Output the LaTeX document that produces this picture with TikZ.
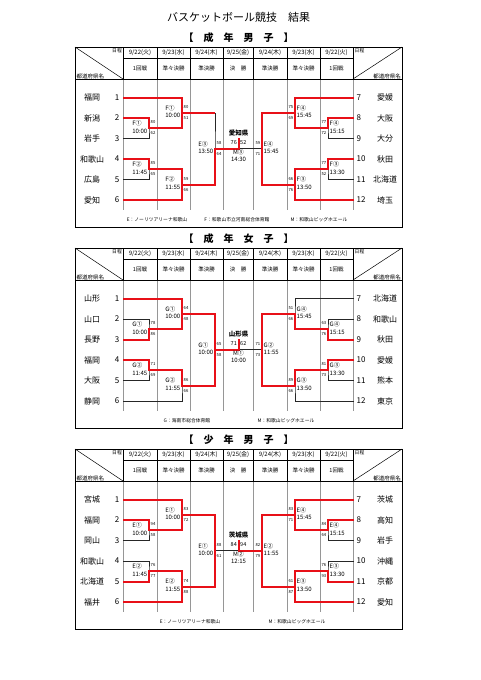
\documentclass[tikz,border=0pt]{standalone}
\usepackage{fontspec}
\setmainfont{Noto Sans CJK JP}
\usetikzlibrary{calc}

\definecolor{winred}{RGB}{232,16,24}
\definecolor{colgray}{RGB}{150,150,150}

\tikzset{
  grid line/.style={draw=colgray, line width=0.4pt},
  hdr line/.style={draw=black, line width=0.5pt},
  lose/.style={draw=black!85, line width=0.6pt},
  win/.style={draw=winred, line width=2pt, line join=miter},
  head/.style={font=\bfseries\fontsize{10}{10}\selectfont, inner sep=0pt},
  team/.style={font=\fontsize{8}{8}\selectfont, inner sep=0pt},
  hdr/.style={font=\fontsize{5.5}{5.5}\selectfont, inner sep=0pt},
  date/.style={font=\fontsize{6}{6}\selectfont, inner sep=0pt},
  tiny/.style={font=\fontsize{4.8}{4.8}\selectfont, inner sep=0pt},
  venue/.style={font=\fontsize{6}{7.5}\selectfont, inner sep=0pt, align=left},
  score/.style={font=\fontsize{4.2}{4.2}\selectfont, inner sep=0pt},
  fscore/.style={font=\fontsize{5.5}{5.5}\selectfont, inner sep=0pt},
  champ/.style={font=\bfseries\fontsize{6.5}{6.5}\selectfont, inner sep=0pt},
}

% frame, heading and header rows of one table
\newcommand{\tableframe}[1]{%
  \node[head] at (238.5,37.5) {#1};
  \foreach \x in {123,157,190,223,253,287,320,353} {
    \draw[grid line] (\x,79) -- (\x,210);
    \draw[hdr line] (\x,47) -- (\x,79);
  }
  \draw[hdr line] (123,58) -- (353,58);
  \draw[hdr line] (75,79) -- (402,79);
  \draw[hdr line] (75,47) -- (123,79);
  \draw[hdr line] (353,79) -- (402,47);
  \foreach \x/\dd/\w in {140/22/火, 173.5/23/水, 206.5/24/木, 238/25/金,
                         270/24/木, 303.5/23/水, 336.5/22/火}
    \node[date] at (\x,52.5) {9/\dd(\w)};
  \foreach \x/\r in {140/1回戦, 173.5/準々決勝, 206.5/準決勝, 238/決　勝,
                     270/準決勝, 303.5/準々決勝, 336.5/1回戦}
    \node[hdr] at (\x,68.5) {\r};
  \node[tiny, anchor=east] at (122,50.5) {日程};
  \node[tiny, anchor=west] at (354.5,50.5) {日程};
  \node[hdr, anchor=west] at (76.5,76) {都道府県名};
  \node[hdr, anchor=east] at (401,76) {都道府県名};
  \draw[line width=0.6pt] (75,47) rectangle (402,227);
  \draw[line width=1.5pt] (75.5,227.4) -- (402.4,227.4) -- (402.4,47.5);
}

% team names and numbers
\newcommand{\teams}[2]{%
  \foreach \nm [count=\i] in {#1} {
    \node[team] at (92,77+20.5*\i) {\nm};
    \node[team] at (117,77+20.5*\i) {\i};
  }
  \foreach \nm [count=\i] in {#2} {
    \node[team] at (385,77+20.5*\i) {\nm};
    \pgfmathtruncatemacro{\k}{\i+6}
    \node[team, anchor=west] at (356.5,77+20.5*\i) {\k};
  }
}

% black lines of one half
\newcommand{\halfbracket}[1]{%
  \foreach \i in {1,...,6}
    \coordinate (#1t\i) at (123,77+20.5*\i);
  \coordinate (#1a) at (149,128.25);
  \coordinate (#1b) at (149,169.25);
  \coordinate (#1c) at (182,112.9);
  \coordinate (#1d) at (182,184.6);
  \coordinate (#1e) at (215,148.75);
  \coordinate (#1g) at (215,112.9);
  \coordinate (#1f) at (238.5,148.75);
  \coordinate (#1k) at (238.5,138);
  \draw[lose] (#1t2) -| (#1a) |- (#1t3);
  \draw[lose] (#1t4) -| (#1b) |- (#1t5);
  \draw[lose] (#1t1) -| (#1c) |- (#1a);
  \draw[lose] (#1t6) -| (#1d) |- (#1b);
  \draw[lose] (#1c) -| (#1e) |- (#1d);
  \draw[lose] (#1e) -- (#1f);
}

\newcommand{\lgame}[5]{%
  \node[venue, anchor=east, xshift=-1.5pt, yshift=1.5pt] at (#1) {#2\\#3};
  \node[score, anchor=west, xshift=1.5pt, yshift=6pt] at (#1) {#4};
  \node[score, anchor=west, xshift=1.5pt, yshift=-5pt] at (#1) {#5};
}
\newcommand{\rgame}[5]{%
  \node[venue, anchor=west, xshift=1.5pt, yshift=1.5pt] at (#1) {#2\\#3};
  \node[score, anchor=east, xshift=-1.5pt, yshift=6pt] at (#1) {#4};
  \node[score, anchor=east, xshift=-1.5pt, yshift=-5pt] at (#1) {#5};
}
\newcommand{\finalgame}[5]{%
  \node[champ] at (238.5,133) {#1};
  \node[fscore, anchor=east] at (237,142.5) {#2};
  \node[fscore, anchor=west] at (240,142.5) {#3};
  \node[venue, align=center] at (238.5,155.5) {#4\\#5};
}

\begin{document}
\begin{tikzpicture}[x=1pt, y=-1pt]
  \useasboundingbox (0,0) rectangle (481,680);
  \node[font=\fontsize{11}{11}\selectfont] at (238.5,17.5) {バスケットボール競技　結果};

  % ---- seinen danshi
  \begin{scope}
    \tableframe{【　成　年　男　子　】}
    \teams{福岡,新潟,岩手,和歌山,広島,愛知}{愛媛,大阪,大分,秋田,北海道,埼玉}
    \halfbracket{L}
    \begin{scope}[shift={(477,0)}, xscale=-1]
      \halfbracket{R}
    \end{scope}
    \draw[win] (Lt2) -| (La) -| (Lc);
    \draw[win] (Lt1) -| (Lc) -- (Lg);
    \draw[win] (Lt4) -| (Lb) -| (Ld);
    \draw[win] (Lt6) -| (Ld) -| (Le) -- (Lf) -- (Lk);
    \draw[win] (Rt2) -| (Ra) -| (Rc);
    \draw[win] (Rt1) -| (Rc) -| (Re);
    \draw[win] (Rt4) -| (Rb) -| (Rd);
    \draw[win] (Rt6) -| (Rd) -| (Re);
    \lgame{La}{F①}{10:00}{80}{62}
    \lgame{Lc}{F①}{10:00}{80}{51}
    \lgame{Lb}{F②}{11:45}{85}{65}
    \lgame{Ld}{F②}{11:55}{59}{66}
    \lgame{Le}{E③}{13:50}{58}{64}
    \rgame{Ra}{F④}{15:15}{77}{72}
    \rgame{Rc}{F④}{15:45}{75}{69}
    \rgame{Rb}{F③}{13:30}{77}{52}
    \rgame{Rd}{F③}{13:50}{66}{76}
    \rgame{Re}{E④}{15:45}{59}{71}
    \finalgame{愛知県}{76}{52}{M③}{14:30}
    \node[tiny] at (157,220) {E：ノーリツアリーナ和歌山};
    \node[tiny] at (237,220) {F：和歌山市立河南総合体育館};
    \node[tiny] at (319,220) {M：和歌山ビッグホエール};
  \end{scope}

  % ---- seinen joshi
  \begin{scope}[yshift=-201pt]
    \tableframe{【　成　年　女　子　】}
    \teams{山形,山口,長野,福岡,大阪,静岡}{北海道,和歌山,秋田,愛媛,熊本,東京}
    \halfbracket{L}
    \begin{scope}[shift={(477,0)}, xscale=-1]
      \halfbracket{R}
    \end{scope}
    \draw[win] (Lt3) -| (La) -| (Lc);
    \draw[win] (Lt1) -| (Lc) -| (Le) -- (Lf) -- (Lk);
    \draw[win] (Lt4) -| (Lb) -| (Ld) -| (Le);
    \draw[win] (Rt3) -| (Ra) -| (Rc) -| (Re);
    \draw[win] (Rt4) -| (Rb) -| (Rd) -| (Re);
    \lgame{La}{G①}{10:00}{78}{86}
    \lgame{Lc}{G①}{10:00}{64}{48}
    \lgame{Lb}{G②}{11:45}{71}{69}
    \lgame{Ld}{G②}{11:55}{86}{66}
    \lgame{Le}{G①}{10:00}{65}{58}
    \rgame{Ra}{G④}{15:15}{63}{76}
    \rgame{Rc}{G④}{15:45}{51}{66}
    \rgame{Rb}{G③}{13:30}{81}{73}
    \rgame{Rd}{G③}{13:50}{89}{66}
    \rgame{Re}{G②}{11:55}{71}{73}
    \finalgame{山形県}{71}{62}{M①}{10:00}
    \node[tiny] at (187,220) {G：海南市総合体育館};
    \node[tiny] at (286,220) {M：和歌山ビッグホエール};
  \end{scope}

  % ---- shonen danshi
  \begin{scope}[yshift=-402pt]
    \tableframe{【　少　年　男　子　】}
    \teams{宮城,福岡,岡山,和歌山,北海道,福井}{茨城,高知,岩手,沖縄,京都,愛知}
    \halfbracket{L}
    \begin{scope}[shift={(477,0)}, xscale=-1]
      \halfbracket{R}
    \end{scope}
    \draw[win] (Lt2) -| (La) -| (Lc);
    \draw[win] (Lt1) -| (Lc) -| (Le);
    \draw[win] (Lt5) -| (Lb) -| (Ld);
    \draw[win] (Lt6) -| (Ld) -| (Le);
    \draw[win] (Rt2) -| (Ra) -| (Rc);
    \draw[win] (Rt1) -| (Rc) -| (Re) -- (Rf) -- (Rk);
    \draw[win] (Rt5) -| (Rb) -| (Rd);
    \draw[win] (Rt6) -| (Rd) -| (Re);
    \lgame{La}{E①}{10:00}{94}{58}
    \lgame{Lc}{E①}{10:00}{83}{72}
    \lgame{Lb}{E②}{11:45}{76}{77}
    \lgame{Ld}{E②}{11:55}{74}{88}
    \lgame{Le}{E①}{10:00}{88}{61}
    \rgame{Ra}{E④}{15:15}{84}{64}
    \rgame{Rc}{E④}{15:45}{83}{71}
    \rgame{Rb}{E③}{13:30}{76}{93}
    \rgame{Rd}{E③}{13:50}{61}{87}
    \rgame{Re}{E②}{11:55}{82}{79}
    \finalgame{茨城県}{84}{94}{M②}{12:15}
    \node[tiny] at (190,220) {E：ノーリツアリーナ和歌山};
    \node[tiny] at (297,220) {M：和歌山ビッグホエール};
  \end{scope}
\end{tikzpicture}
\end{document}
